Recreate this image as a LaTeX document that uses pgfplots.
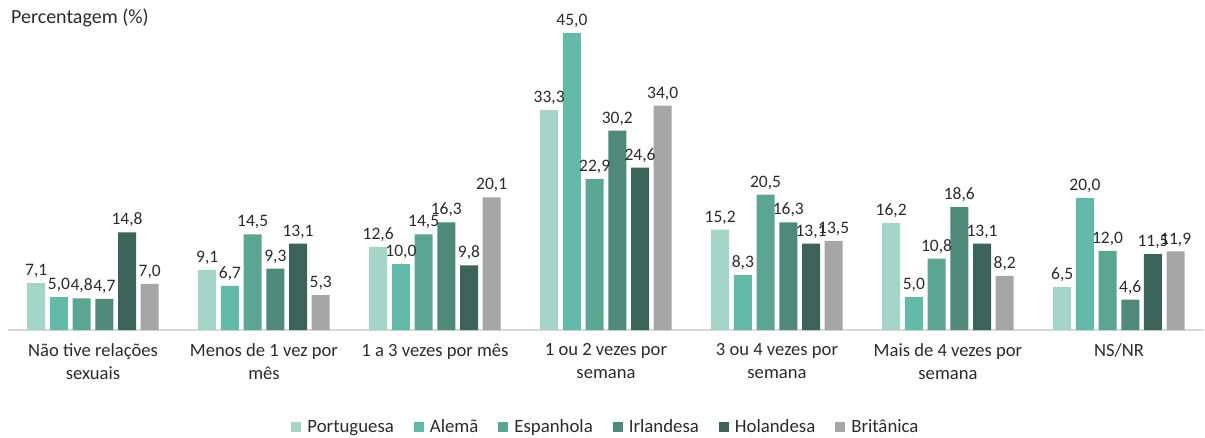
\documentclass[border=0pt]{standalone}
\usepackage{pgfplots}
\pgfplotsset{compat=1.18}
\usepackage{fontspec}
\setmainfont{Carlito}

\definecolor{cPor}{HTML}{A5D5C8}
\definecolor{cAle}{HTML}{64BAA9}
\definecolor{cEsp}{HTML}{5BA592}
\definecolor{cIrl}{HTML}{4E897A}
\definecolor{cHol}{HTML}{3C6359}
\definecolor{cBri}{HTML}{A6A6A6}
\definecolor{txt}{HTML}{2B2B2B}

\begin{document}
\begin{tikzpicture}[x=1pt,y=1pt]
\path[use as bounding box] (0,0) rectangle (1205,437);
\node[anchor=west, font=\fontsize{20}{23}\selectfont, text=txt, inner sep=0pt] at (11,419) {Percentagem (\%)};
\begin{axis}[
    at={(7.5pt,107pt)}, anchor=south west,
    scale only axis,
    width=1197pt, height=303.6pt,
    xmin=-0.5, xmax=6.5, ymin=0, ymax=46,
    ybar=4.7pt, bar width=18pt,
    axis y line=none,
    axis x line*=bottom,
    x axis line style={draw=black!15, line width=1.5pt},
    xtick={0,...,6},
    major tick length=0pt,
    xticklabels={{Não tive relações\\sexuais},{Menos de 1 vez por\\mês},{1 a 3 vezes por mês},{1 ou 2 vezes por\\semana},{3 ou 4 vezes por\\semana},{Mais de 4 vezes por\\semana},{NS/NR}},
    xticklabel style={font=\fontsize{18.6}{23}\selectfont, text=txt, align=center, anchor=north, yshift=-10pt},
    nodes near coords,
    every node near coord/.append style={font=\fontsize{17.5}{19}\selectfont, text=txt, inner sep=2pt, yshift=3pt},
    /pgf/number format/.cd, fixed, fixed zerofill, precision=1, use comma, assume math mode=true,
    /pgfplots/.cd,
    legend columns=-1,
    legend style={at={(axis description cs:0.5,-0.3195)}, anchor=center, draw=none, fill=none,
        font=\fontsize{18.8}{22}\selectfont, text=txt, column sep=4pt},
    legend image code/.code={\fill[#1] (0pt,-5pt) rectangle (10pt,5pt);},
    clip=false,
]
\addplot[fill=cPor, draw=none] coordinates {(0,7.1) (1,9.1) (2,12.6) (3,33.3) (4,15.2) (5,16.2) (6,6.5)};
\addplot[fill=cAle, draw=none] coordinates {(0,5.0) (1,6.7) (2,10.0) (3,45.0) (4,8.3) (5,5.0) (6,20.0)};
\addplot[fill=cEsp, draw=none] coordinates {(0,4.8) (1,14.5) (2,14.5) (3,22.9) (4,20.5) (5,10.8) (6,12.0)};
\addplot[fill=cIrl, draw=none] coordinates {(0,4.7) (1,9.3) (2,16.3) (3,30.2) (4,16.3) (5,18.6) (6,4.6)};
\addplot[fill=cHol, draw=none] coordinates {(0,14.8) (1,13.1) (2,9.8) (3,24.6) (4,13.1) (5,13.1) (6,11.5)};
\addplot[fill=cBri, draw=none] coordinates {(0,7.0) (1,5.3) (2,20.1) (3,34.0) (4,13.5) (5,8.2) (6,11.9)};
\legend{Portuguesa\hspace*{14pt},Alemã\hspace*{14pt},Espanhola\hspace*{14pt},Irlandesa\hspace*{14pt},Holandesa\hspace*{14pt},Britânica}
\end{axis}
\end{tikzpicture}
\end{document}
